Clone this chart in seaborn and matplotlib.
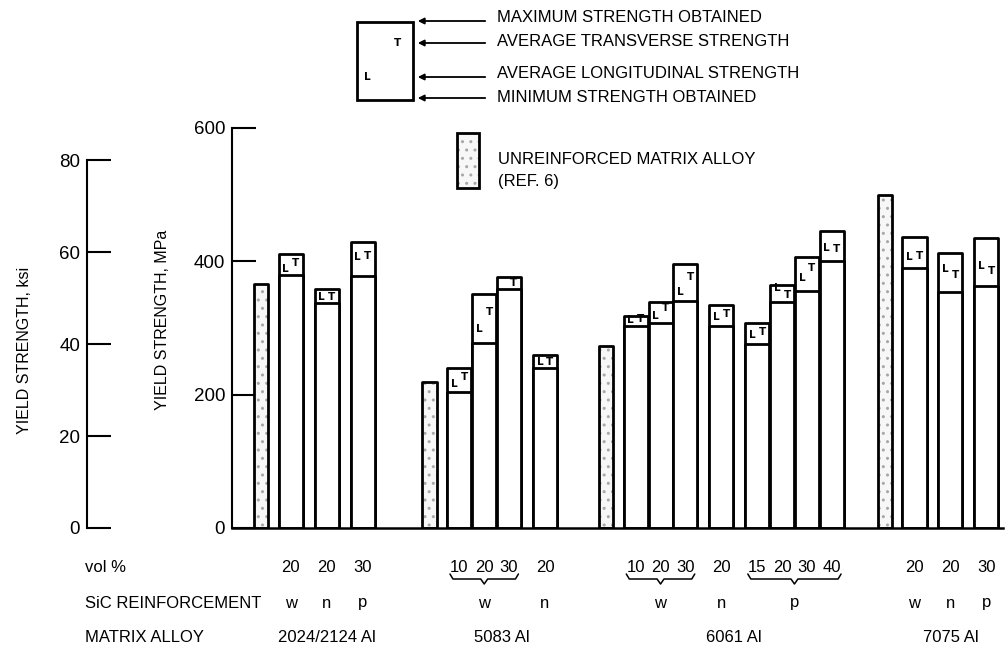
import numpy as np
import pandas as pd
import matplotlib
matplotlib.use("Agg")
import matplotlib.pyplot as plt
import seaborn as sns
from matplotlib.patches import Rectangle, FancyArrowPatch
from matplotlib.lines import Line2D
import matplotlib.transforms as mtransforms

# ---------------- data ----------------
alloys = ["2024/2124 Al", "5083 Al", "6061 Al", "7075 Al"]
unreinforced_mpa = [366, 219, 273, 499]

bar_alloy = [0, 0, 0, 1, 1, 1, 1, 2, 2, 2, 2, 2, 2, 2, 2, 3, 3, 3]
bar_type = ["w", "n", "p", "w", "w", "w", "n", "w", "w", "w", "n", "p", "p", "p", "p", "w", "n", "p"]
vol_pct = [20, 20, 30, 10, 20, 30, 20, 10, 20, 30, 20, 15, 20, 30, 40, 20, 20, 30]
max_mpa = [411, 358, 429, 240, 351, 376, 259, 318, 339, 396, 334, 307, 364, 406, 445, 436, 412, 435]
min_mpa = [379, 338, 378, 204, 277, 358, 240, 303, 307, 340, 303, 276, 339, 355, 400, 390, 354, 363]
avg_L = [388, 346, 406, 216, 298, np.nan, 249, 312, 318, 354, 317, 289, 360, 375, 420, 406, 389, 393]
avg_T = [397, 346, 408, 226, 324, 367, 249, 313, 330, 376, 321, 294, 350, 390, 418, 408, 380, 386]

MPA_PER_KSI = 6.895

# ---------------- layout (positions from the categorical structure) ----------------
STEP_IN_SUB = 1.0      # adjacent bars of one reinforcement series
STEP_SUB = 1.45        # between reinforcement types
STEP_U = 1.2           # unreinforced bar -> first reinforced bar
STEP_ALLOY = [2.7, 2.46, 2.14]

u_pos, r_pos = [], []
cur = 0.0
for a in range(len(alloys)):
    if a > 0:
        cur += STEP_ALLOY[a - 1]
    u_pos.append(cur)
    idx = [i for i in range(len(bar_alloy)) if bar_alloy[i] == a]
    prev_type = None
    for k, i in enumerate(idx):
        if k == 0:
            cur += STEP_U
        elif bar_type[i] == prev_type:
            cur += STEP_IN_SUB
        else:
            cur += STEP_SUB
        r_pos.append(round(cur, 3))
        prev_type = bar_type[i]

df_r = pd.DataFrame({"pos": r_pos, "max": max_mpa, "min": min_mpa})
df_u = pd.DataFrame({"pos": u_pos, "val": unreinforced_mpa})

# ---------------- figure ----------------
sns.set_style("white")
plt.rcParams["font.family"] = ["Liberation Sans", "DejaVu Sans"]
for k in ["text.color", "axes.labelcolor", "xtick.color", "ytick.color", "axes.edgecolor"]:
    plt.rcParams[k] = "black"
plt.rcParams["hatch.linewidth"] = 1.0

W, H = 1005, 652
fig = plt.figure(figsize=(W / 100, H / 100), dpi=100)

def fx(px):
    return px / W

def fy(py):
    return 1 - py / H

ax_left, ax_right, ax_top, ax_bot = 232, 1003, 128, 528
ax = fig.add_axes([fx(ax_left), fy(ax_bot), fx(ax_right) - fx(ax_left), fy(ax_top) - fy(ax_bot)])

LW = 2.0
RW = 0.97   # reinforced bar width
UW = 0.58   # unreinforced bar width
STIPPLE = "#a8a8a8"
UFILL = "#f7f7f7"

sns.barplot(data=df_r, x="pos", y="max", native_scale=True, color="white",
            saturation=1, edgecolor="black", linewidth=LW, errorbar=None, ax=ax)
sns.barplot(data=df_r, x="pos", y="min", native_scale=True, color="white",
            saturation=1, edgecolor="black", linewidth=LW, errorbar=None, ax=ax)
n_r = len(ax.patches)
sns.barplot(data=df_u, x="pos", y="val", native_scale=True, color=UFILL,
            saturation=1, edgecolor="black", linewidth=LW, errorbar=None, ax=ax)

patches = list(ax.patches)
for k, p in enumerate(patches):
    c = p.get_x() + p.get_width() / 2
    w = RW if k < n_r else UW
    p.set_width(w)
    p.set_x(c - w / 2)
    p.set_joinstyle("round")
    if k >= n_r:
        # stippled fill underneath, black outline on top
        under = Rectangle((p.get_x(), p.get_y()), p.get_width(), p.get_height(),
                          facecolor=UFILL, edgecolor=STIPPLE, lw=0, hatch="..",
                          zorder=p.get_zorder() - 0.1)
        ax.add_patch(under)
        p.set_facecolor("none")

# L / T markers
LT_KW = dict(ha="center", va="center", fontsize=7.5, fontweight="bold", family=["DejaVu Sans"])
for x, l, t in zip(r_pos, avg_L, avg_T):
    if not np.isnan(l):
        ax.text(x - 0.2, l, "L", **LT_KW)
    if not np.isnan(t):
        ax.text(x + 0.2, t, "T", **LT_KW)

x0 = u_pos[0] - (261 - ax_left) / 24.8
x1 = u_pos[0] + (ax_right - 261) / 24.8
ax.set_xlim(x0, x1)
ax.set_ylim(0, 600)
ax.set_xticks([])
ax.set_xlabel("")
ax.set_yticks([0, 200, 400, 600])
ax.tick_params(axis="y", direction="in", length=17, width=1.5, labelsize=13.5, pad=5)
for s in ["top", "right"]:
    ax.spines[s].set_visible(False)
ax.spines["left"].set_bounds(0, 600)
ax.spines["left"].set_linewidth(1.5)
ax.spines["bottom"].set_linewidth(1.8)
ax.set_ylabel("YIELD STRENGTH, MPa", fontsize=11.5)
ax.yaxis.set_label_coords((170 - ax_left) / (ax_right - ax_left), (528 - 320) / 400)

# ksi axis
ax2 = ax.twinx()
ax2.set_ylim(0, 600 / MPA_PER_KSI)
for s in ["right", "top", "bottom"]:
    ax2.spines[s].set_visible(False)
ax2.spines["left"].set_position(("axes", (87 - ax_left) / (ax_right - ax_left)))
ax2.spines["left"].set_bounds(0, 80)
ax2.spines["left"].set_linewidth(1.5)
ax2.yaxis.set_ticks_position("left")
ax2.yaxis.set_label_position("left")
ax2.set_yticks([0, 20, 40, 60, 80])
ax2.tick_params(axis="y", direction="in", length=17, width=1.5, labelsize=13.5, pad=5)
ax2.set_ylabel("YIELD STRENGTH, ksi", fontsize=11.5)
ax2.yaxis.set_label_coords((32 - ax_left) / (ax_right - ax_left), (528 - 350) / 400)

# ---------------- table under the chart ----------------
trans = mtransforms.blended_transform_factory(ax.transData, ax.transAxes)
def ay(py):
    return (ax_bot - py) / (ax_bot - ax_top)

FS = 12
for x, v in zip(r_pos, vol_pct):
    ax.text(x, ay(567), str(v), transform=trans, ha="center", va="center", fontsize=FS, clip_on=False)

for a in range(len(alloys)):
    idx = [i for i in range(len(bar_alloy)) if bar_alloy[i] == a]
    groups = []
    for i in idx:
        if groups and bar_type[groups[-1][-1]] == bar_type[i]:
            groups[-1].append(i)
        else:
            groups.append([i])
    for g in groups:
        xs = [r_pos[i] for i in g]
        xc = (xs[0] + xs[-1]) / 2
        ax.text(xc, ay(603), bar_type[g[0]], transform=trans, ha="center", va="center",
                fontsize=FS, clip_on=False)
        if len(g) > 1:
            bx0, bx1 = xs[0] - 0.38, xs[-1] + 0.38
            ytop, ymid, ytip = ay(574), ay(579), ay(584)
            bxs = [bx0, bx0 + 0.12, xc - 0.14, xc, xc + 0.14, bx1 - 0.12, bx1]
            bys = [ytop, ymid, ymid, ytip, ymid, ymid, ytop]
            ax.add_line(Line2D(bxs, bys, transform=trans, color="black", lw=1.1, clip_on=False))
    rx = [r_pos[i] for i in idx]
    ax.text((rx[0] + rx[-1]) / 2, ay(638), alloys[a], transform=trans, ha="center", va="center",
            fontsize=FS, clip_on=False)

fig.text(fx(85), fy(567), "vol %", ha="left", va="center", fontsize=FS)
fig.text(fx(85), fy(603), "SiC REINFORCEMENT", ha="left", va="center", fontsize=FS)
fig.text(fx(85), fy(638), "MATRIX ALLOY", ha="left", va="center", fontsize=FS)

# ---------------- legend key at top ----------------
ft = fig.transFigure
fig.add_artist(Rectangle((fx(357), fy(100)), fx(413) - fx(357), fy(22) - fy(100),
                         transform=ft, fill=False, edgecolor="black", lw=2.0))
fig.text(fx(397), fy(43), "T", transform=ft, **LT_KW)
fig.text(fx(367), fy(77), "L", transform=ft, **LT_KW)
key_labels = ["MAXIMUM STRENGTH OBTAINED", "AVERAGE TRANSVERSE STRENGTH",
              "AVERAGE LONGITUDINAL STRENGTH", "MINIMUM STRENGTH OBTAINED"]
arrow_y = [21, 43, 77, 98]
text_y = [17, 42, 73, 98]
for lab, a_y, t_y in zip(key_labels, arrow_y, text_y):
    fig.add_artist(FancyArrowPatch((fx(488), fy(a_y)), (fx(415), fy(a_y)), transform=ft,
                                   arrowstyle="-|>", mutation_scale=9, lw=1.3, color="black"))
    fig.text(fx(497), fy(t_y), lab, ha="left", va="center", fontsize=12)

key_rect = ((fx(457), fy(188)), fx(479) - fx(457), fy(133) - fy(188))
fig.add_artist(Rectangle(*key_rect, transform=ft, facecolor=UFILL, edgecolor=STIPPLE, lw=0, hatch=".."))
fig.add_artist(Rectangle(*key_rect, transform=ft, fill=False, edgecolor="black", lw=2.0))
fig.text(fx(498), fy(160), "UNREINFORCED MATRIX ALLOY", ha="left", va="center", fontsize=12)
fig.text(fx(498), fy(182), "(REF. 6)", ha="left", va="center", fontsize=12)

fig.savefig("out.png", dpi=100)
